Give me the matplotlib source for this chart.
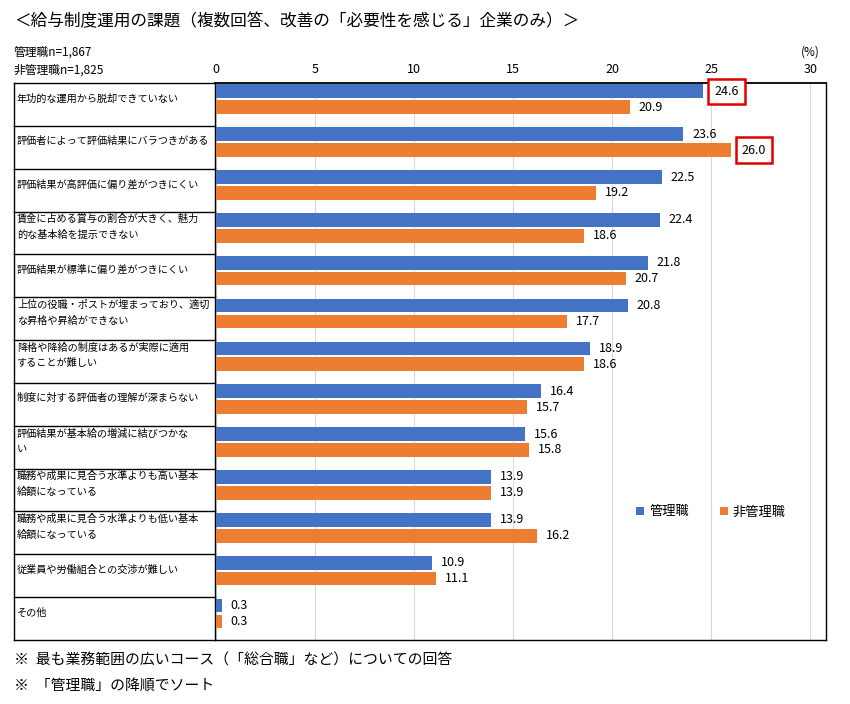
import matplotlib
matplotlib.use("Agg")
import matplotlib.pyplot as plt
import matplotlib.transforms as mtransforms
from matplotlib.lines import Line2D

plt.rcParams['font.family'] = ['Noto Sans CJK JP', 'DejaVu Sans']

categories = [
    "年功的な運用から脱却できていない",
    "評価者によって評価結果にバラつきがある",
    "評価結果が高評価に偏り差がつきにくい",
    "賃金に占める賞与の割合が大きく、魅力\n的な基本給を提示できない",
    "評価結果が標準に偏り差がつきにくい",
    "上位の役職・ポストが埋まっており、適切\nな昇格や昇給ができない",
    "降格や降給の制度はあるが実際に適用\nすることが難しい",
    "制度に対する評価者の理解が深まらない",
    "評価結果が基本給の増減に結びつかな\nい",
    "職務や成果に見合う水準よりも高い基本\n給額になっている",
    "職務や成果に見合う水準よりも低い基本\n給額になっている",
    "従業員や労働組合との交渉が難しい",
    "その他",
]
manager = [24.6, 23.6, 22.5, 22.4, 21.8, 20.8, 18.9, 16.4, 15.6, 13.9, 13.9, 10.9, 0.3]
non_manager = [20.9, 26.0, 19.2, 18.6, 20.7, 17.7, 18.6, 15.7, 15.8, 13.9, 16.2, 11.1, 0.3]
highlight_manager = [0]      # index of boxed manager label
highlight_non_manager = [1]  # index of boxed non-manager label
xticks = [0, 5, 10, 15, 20, 25, 30]
series_names = ["管理職", "非管理職"]

c_blue = "#4472C4"
c_orange = "#ED7D31"

fig = plt.figure(figsize=(8.5, 7.04), dpi=100)
ax = fig.add_axes([215/850, 1-640/704, (826-215)/850, (640-83)/704])

n = len(categories)
bh = 0.32
ys = list(range(n))
yb = [y + 0.195 for y in ys]
yo = [y + 0.565 for y in ys]
ax.barh(yb, manager, height=bh, color=c_blue, label=series_names[0], zorder=3)
ax.barh(yo, non_manager, height=bh, color=c_orange, label=series_names[1], zorder=3)

ax.set_ylim(n, 0)
ax.set_xlim(-0.05, 30.8)
ax.set_yticks([])
ax.set_xticks(xticks)
ax.xaxis.tick_top()
ax.tick_params(axis='x', length=0, pad=5, labelsize=9)
ax.grid(axis='x', color='#D9D9D9', linewidth=0.8, zorder=0)
for s in ax.spines.values():
    s.set_color('black')
    s.set_linewidth(1.0)
ax.spines['top'].set_linewidth(1.3)

for i, (m, nm) in enumerate(zip(manager, non_manager)):
    kw_m = dict(va='center', ha='left', fontsize=9, zorder=4)
    if i in highlight_manager:
        kw_m['bbox'] = dict(boxstyle='square,pad=0.5', fc='white', ec='#E00000', lw=1.8)
        ax.text(m + 0.55, yb[i], f"{m:.1f}", **kw_m)
    else:
        ax.text(m + 0.45, yb[i], f"{m:.1f}", **kw_m)
    kw_o = dict(va='center', ha='left', fontsize=9, zorder=4)
    if i in highlight_non_manager:
        kw_o['bbox'] = dict(boxstyle='square,pad=0.5', fc='white', ec='#E00000', lw=1.8)
        ax.text(nm + 0.55, yo[i], f"{nm:.1f}", **kw_o)
    else:
        ax.text(nm + 0.45, yo[i], f"{nm:.1f}", **kw_o)

# left label table
trans = mtransforms.blended_transform_factory(fig.transFigure, ax.transData)
xl = 14/850
xr = 215/850
for k in range(n + 1):
    fig.add_artist(Line2D([xl, xr], [k, k], transform=trans, color='black', lw=1.0))
fig.add_artist(Line2D([xl, xl], [0, n], transform=trans, color='black', lw=1.0))
for i, c in enumerate(categories):
    fig.text(17/850, i + 0.36, c, transform=trans, va='center', ha='left',
             fontsize=7.3, linespacing=1.7)

# legend
ax.legend(loc='center', bbox_to_anchor=(0.812, 1 - (512-83)/(640-83)), ncol=2,
          frameon=False, fontsize=9.5, handlelength=0.6, handleheight=0.6,
          columnspacing=2.3, handletextpad=0.4)

# texts
fig.text(14/850, 1-22/704, "＜給与制度運用の課題（複数回答、改善の「必要性を感じる」企業のみ）＞",
         fontsize=12, va='center', ha='left')
fig.text(14/850, 1-52/704, "管理職n=1,867", fontsize=8.5, va='center', ha='left')
fig.text(14/850, 1-70/704, "非管理職n=1,825", fontsize=8.5, va='center', ha='left')
fig.text(810/850, 1-52/704, "(%)", fontsize=8.5, va='center', ha='center')
fig.text(14/850, 1-660/704, "※  最も業務範囲の広いコース（「総合職」など）についての回答",
         fontsize=10.7, va='center', ha='left')
fig.text(14/850, 1-686/704, "※  「管理職」の降順でソート",
         fontsize=10.7, va='center', ha='left')

fig.savefig("out.png", dpi=100, facecolor='white')
